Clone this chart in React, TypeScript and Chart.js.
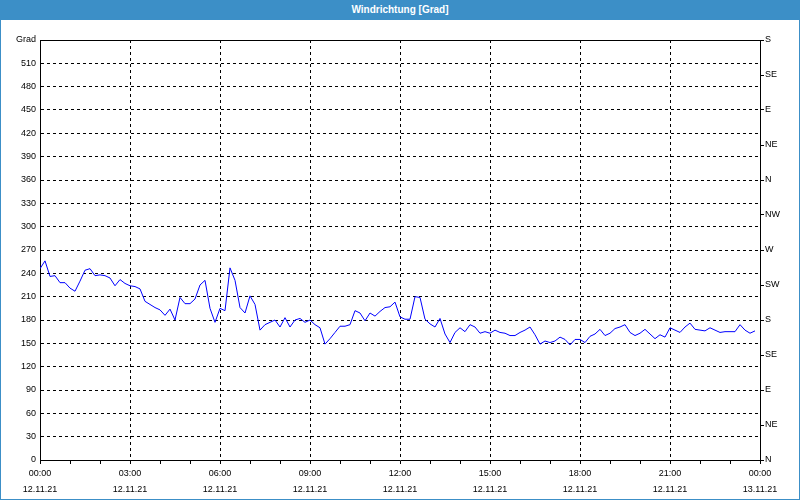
import React, { useEffect, useRef } from "react";
import { Chart, registerables } from "chart.js";

Chart.register(...registerables);

// Wind direction in degrees, one reading every 10 minutes, 12.11.21 00:00 .. 23:50
const directionValues: number[] = [
  246, 256, 236, 237, 228, 228, 221, 217, 230, 244, 246, 237, 238, 237, 234, 224,
  232, 227, 224, 223, 220, 204, 200, 196, 193, 186, 194, 180, 209, 201, 201, 207,
  225, 231, 195, 177, 195, 192, 247, 231, 196, 189, 211, 200, 167, 174, 177, 180,
  171, 183, 171, 180, 182, 177, 180, 174, 170, 149, 156, 164, 172, 172, 174, 192,
  189, 179, 189, 185, 191, 196, 197, 203, 184, 181, 181, 210, 209, 181, 175, 171,
  182, 162, 151, 164, 170, 165, 174, 171, 163, 165, 163, 167, 164, 163, 160, 160,
  164, 167, 171, 161, 149, 153, 151, 153, 158, 155, 148, 155, 155, 151, 159, 162,
  168, 160, 163, 169, 171, 174, 164, 160, 163, 168, 162, 156, 161, 158, 170, 167,
  164, 171, 176, 168, 167, 166, 170, 167, 164, 165, 165, 165, 174, 167, 163, 166,
];
const intervalMinutes = 10;

const compassLabels: string[] = ["N", "NE", "E", "SE", "S", "SW", "W", "NW", "N", "NE", "E", "SE", "S"];
const dayLabels: string[] = ["12.11.21", "13.11.21"];
const titleText = "Windrichtung [Grad]";
const unitLabel = "Grad";

const BLUE = "#3c8fc7";
const FONT = "'Liberation Sans', Arial, sans-serif";

export default function App() {
  const canvasRef = useRef<HTMLCanvasElement | null>(null);

  useEffect(() => {
    if (!canvasRef.current) return;
    const points = directionValues.map((v, i) => ({ x: i * intervalMinutes, y: v }));
    const tickFont = { family: FONT, size: 9 };

    const topBorder = {
      id: "topBorder",
      afterDraw(chart: any) {
        const { ctx, chartArea } = chart;
        ctx.save();
        ctx.strokeStyle = "#000";
        ctx.lineWidth = 1;
        ctx.beginPath();
        ctx.moveTo(chartArea.left, Math.round(chartArea.top) + 0.5);
        ctx.lineTo(chartArea.right, Math.round(chartArea.top) + 0.5);
        ctx.stroke();
        ctx.restore();
      },
    };

    const chart = new Chart(canvasRef.current, {
      type: "line",
      data: {
        datasets: [
          {
            data: points,
            borderColor: "#0000ff",
            borderWidth: 1,
            pointRadius: 0,
            tension: 0,
            fill: false,
            yAxisID: "y",
          },
        ],
      },
      options: {
        responsive: false,
        animation: false,
        devicePixelRatio: 1,
        parsing: true,
        layout: { padding: { top: 40, left: 0, right: 0, bottom: 0 } },
        plugins: { legend: { display: false }, tooltip: { enabled: false }, title: { display: false } },
        scales: {
          x: {
            type: "linear",
            position: "bottom",
            min: 0,
            max: 1440,
            afterFit: (s: any) => { s.height = 40; },
            border: { display: true, color: "#000", width: 1, dash: [3, 3] },
            grid: {
              display: true,
              drawOnChartArea: true,
              drawTicks: true,
              tickLength: 4,
              tickColor: "#000",
              lineWidth: 1,
              color: (ctx: any) => {
                const v = ctx.tick ? ctx.tick.value : 0;
                return v % 180 === 0 && v !== 0 && v !== 1440 ? "#000" : "rgba(0,0,0,0)";
              },
            },
            ticks: {
              stepSize: 60,
              autoSkip: false,
              maxRotation: 0,
              minRotation: 0,
              padding: 2,
              color: "#000",
              font: { family: FONT, size: 9, lineHeight: 1.72 },
              callback: (value: any) => {
                const v = Number(value);
                if (v % 180 !== 0) return "";
                const h = Math.floor(v / 60) % 24;
                const day = v >= 1440 ? dayLabels[1] : dayLabels[0];
                return [String(h).padStart(2, "0") + ":00", day];
              },
            },
          },
          y: {
            type: "linear",
            position: "left",
            min: 0,
            max: 540,
            afterFit: (s: any) => { s.width = 40; },
            border: { display: true, color: "#000", width: 1, dash: [3, 3] },
            grid: {
              display: true,
              drawTicks: false,
              lineWidth: 1,
              color: (ctx: any) => {
                const v = ctx.tick ? ctx.tick.value : 0;
                return v === 0 || v === 540 ? "rgba(0,0,0,0)" : "#000";
              },
            },
            ticks: {
              stepSize: 30,
              autoSkip: false,
              padding: 4,
              color: "#000",
              font: tickFont,
              callback: (value: any) => (Number(value) === 540 ? unitLabel : String(value)),
            },
          },
          y2: {
            type: "linear",
            position: "right",
            min: 0,
            max: 540,
            afterFit: (s: any) => { s.width = 40; },
            border: { display: true, color: "#000", width: 1 },
            grid: {
              display: true,
              drawOnChartArea: false,
              drawTicks: true,
              tickLength: 4,
              tickColor: "#000",
            },
            ticks: {
              stepSize: 45,
              autoSkip: false,
              padding: 1,
              color: "#000",
              font: tickFont,
              callback: (value: any) => compassLabels[Math.round(Number(value) / 45)] ?? "",
            },
          },
        },
      },
      plugins: [topBorder],
    } as any);

    return () => chart.destroy();
  }, []);

  return (
    <div style={{ position: "absolute", left: 0, top: 0, width: 800, height: 500, background: "#fff" }}>
      <canvas ref={canvasRef} width={800} height={500} style={{ position: "absolute", left: 0, top: 0, display: "block" }} />
      <div
        style={{
          position: "absolute",
          left: 0,
          top: 0,
          width: 800,
          height: 20,
          background: BLUE,
          color: "#fff",
          fontFamily: FONT,
          fontWeight: "bold",
          fontSize: 10,
          lineHeight: "20px",
          textAlign: "center",
        }}
      >
        {titleText}
      </div>
      <div
        style={{
          position: "absolute",
          left: 0,
          top: 0,
          width: 800,
          height: 500,
          border: `1px solid ${BLUE}`,
          boxSizing: "border-box",
          pointerEvents: "none",
        }}
      />
    </div>
  );
}
